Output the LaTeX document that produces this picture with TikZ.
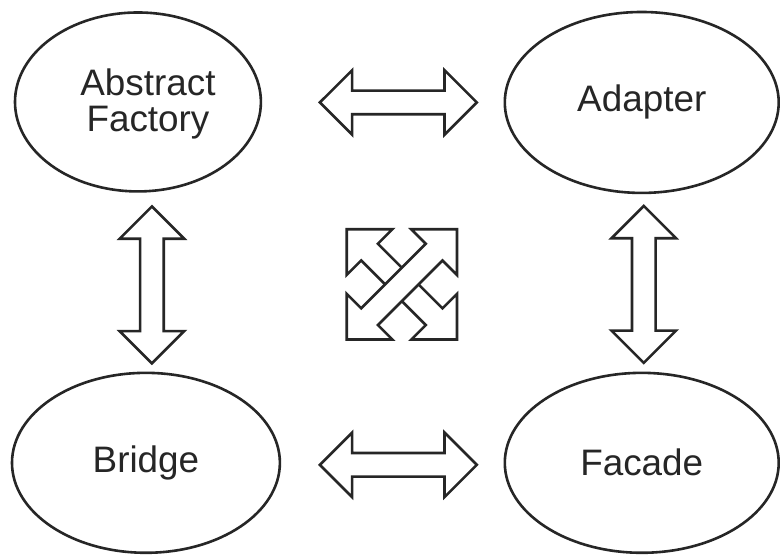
\documentclass[tikz,border=0pt]{standalone}
\usepackage{fontspec}
\setmainfont{Liberation Sans}
\usetikzlibrary{shapes.geometric,shapes.arrows}

\begin{document}
\begin{tikzpicture}[x=1bp,y=-1bp,
    design/.style={ellipse,draw=black!85,line width=2.6bp,inner sep=0pt,
        text=black!85,font=\fontsize{37}{36}\selectfont,align=center},
    relation/.style={double arrow,draw=black!85,fill=white,line width=2.6bp,
        inner xsep=0pt,inner ysep=10.5bp,double arrow tip angle=90,
        double arrow head extend=20.5bp,minimum height=157bp}]

    % Page
    \fill[white] (0,0) rectangle (780,554);

    % Patterns
    \node[design,minimum width=246bp,minimum height=179bp,
        label={[design,draw=none,xshift=10bp,yshift=-2bp]center:Abstract\\Factory}] (af) at (138,102) {};
    \node[design,minimum width=274bp,minimum height=181bp] (ad) at (642,102.5) {Adapter};
    \node[design,minimum width=268bp,minimum height=180bp] (br) at (146,463) {Bridge};
    \node[design,minimum width=274bp,minimum height=180bp] (fa) at (642,463) {Facade};

    % Relations
    \node[relation] (afad) at (398.5,102.5) {};
    \node[relation] (brfa) at (398.5,465) {};
    \node[relation,rotate=90] (afbr) at (152,285) {};
    \node[relation,rotate=90] (adfa) at (644,284.5) {};

    % Crossed relations
    \node[relation,rotate=-45,minimum height=156bp] (affa) at (402,284.5) {};
    \node[relation,rotate=45,minimum height=156bp] (brad) at (402,284.5) {};

\end{tikzpicture}
\end{document}
